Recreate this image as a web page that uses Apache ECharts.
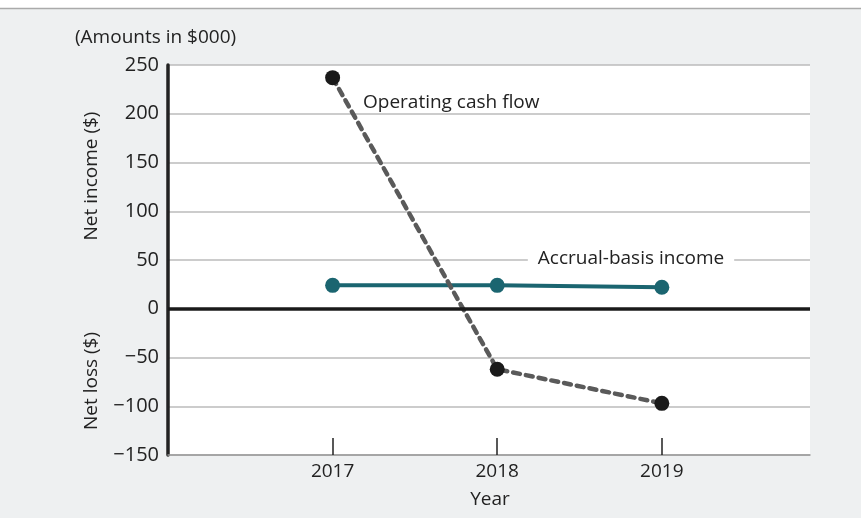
<!DOCTYPE html>
<html>
<head>
<meta charset="utf-8">
<script src="https://cdn.jsdelivr.net/npm/echarts@6/dist/echarts.min.js"></script>
<style>
  html, body { margin: 0; padding: 0; background: #eef0f1; }
  #chart { width: 861px; height: 518px; }
</style>
</head>
<body>
<div id="chart"></div>
<script>
  // years shown on the x axis
  const years = [2017, 2018, 2019]
  // amounts in $000
  const operatingCashFlow = [237, -62, -97]
  const accrualIncome = [24, 24, 22]
  const yTicks = [-150, -100, -50, 0, 50, 100, 150, 200, 250]

  const font = '"Open Sans", Lato, sans-serif'
  const dom = echarts.init(document.getElementById('chart'))

  const option = {
    backgroundColor: '#eef0f1',
    animation: false,
    grid: {
      left: 168,
      right: 51,
      top: 65,
      bottom: 63,
      show: true,
      backgroundColor: '#fff',
      borderWidth: 0
    },
    xAxis: {
      type: 'value',
      min: 2016,
      max: 2019.9,
      interval: 1,
      axisLine: { show: true, onZero: false, lineStyle: { color: '#999', width: 1.5 } },
      axisTick: {
        show: true,
        inside: true,
        length: 17,
        customValues: years,
        lineStyle: { color: '#222', width: 1.5 }
      },
      axisLabel: {
        customValues: years,
        color: '#222',
        fontFamily: font,
        fontSize: 19,
        margin: 7,
        formatter: v => String(v)
      },
      splitLine: { show: false }
    },
    yAxis: {
      type: 'value',
      min: yTicks[0],
      max: yTicks[yTicks.length - 1],
      interval: 50,
      axisLine: { show: true, lineStyle: { color: '#222', width: 3.5 } },
      axisTick: { show: false },
      axisLabel: {
        color: '#222',
        fontFamily: font,
        fontSize: 20,
        margin: 9,
        formatter: v => (v < 0 ? '\u2212' + Math.abs(v) : String(v))
      },
      splitLine: { lineStyle: { color: '#bbb', width: 1.5 } }
    },
    series: [
      {
        name: 'Accrual-basis income',
        type: 'line',
        data: years.map((y, i) => [y, accrualIncome[i]]),
        symbol: 'circle',
        symbolSize: 15,
        lineStyle: { color: '#1b6570', width: 4 },
        itemStyle: { color: '#1b6570' },
        markLine: {
          silent: true,
          symbol: 'none',
          label: { show: false },
          lineStyle: { color: '#1a1a1a', width: 3.5, type: 'solid' },
          data: [{ yAxis: 0 }]
        },
        z: 3
      },
      {
        name: 'Operating cash flow',
        type: 'line',
        data: years.map((y, i) => [y, operatingCashFlow[i]]),
        symbol: 'circle',
        symbolSize: 15,
        lineStyle: { color: '#5a5a5a', width: 4.5, type: [7, 6], cap: 'round' },
        itemStyle: { color: '#1a1a1a' },
        z: 4
      }
    ],
    graphic: [
      { type: 'rect', left: 0, top: 0, shape: { width: 861, height: 8 }, style: { fill: '#fff' } },
      { type: 'line', shape: { x1: 0, y1: 8.5, x2: 861, y2: 8.5 }, style: { stroke: '#aaa', lineWidth: 1.5 } },
      {
        type: 'text', x: 75, y: 38,
        style: { text: '(Amounts in $000)', fill: '#222', font: '19px ' + font, verticalAlign: 'middle' }
      },
      {
        type: 'text', x: 92, y: 176, rotation: Math.PI / 2,
        style: { text: 'Net income ($)', fill: '#222', font: '19px ' + font, align: 'center', verticalAlign: 'middle' }
      },
      {
        type: 'text', x: 92, y: 381, rotation: Math.PI / 2,
        style: { text: 'Net loss ($)', fill: '#222', font: '19px ' + font, align: 'center', verticalAlign: 'middle' }
      },
      {
        type: 'text', x: 490, y: 500,
        style: { text: 'Year', fill: '#222', font: '19px ' + font, align: 'center', verticalAlign: 'middle' }
      },
      {
        type: 'text', x: 363, y: 103, z: 10,
        style: { text: 'Operating cash flow', fill: '#222', font: '19px ' + font, verticalAlign: 'middle' }
      },
      {
        type: 'text', x: 631, y: 259, z: 10,
        style: {
          text: 'Accrual-basis income', fill: '#222', font: '19px ' + font,
          align: 'center', verticalAlign: 'middle',
          backgroundColor: '#fff', padding: [2, 10]
        }
      }
    ]
  }

  dom.setOption(option)
  window.addEventListener('resize', () => dom.resize())
</script>
</body>
</html>
